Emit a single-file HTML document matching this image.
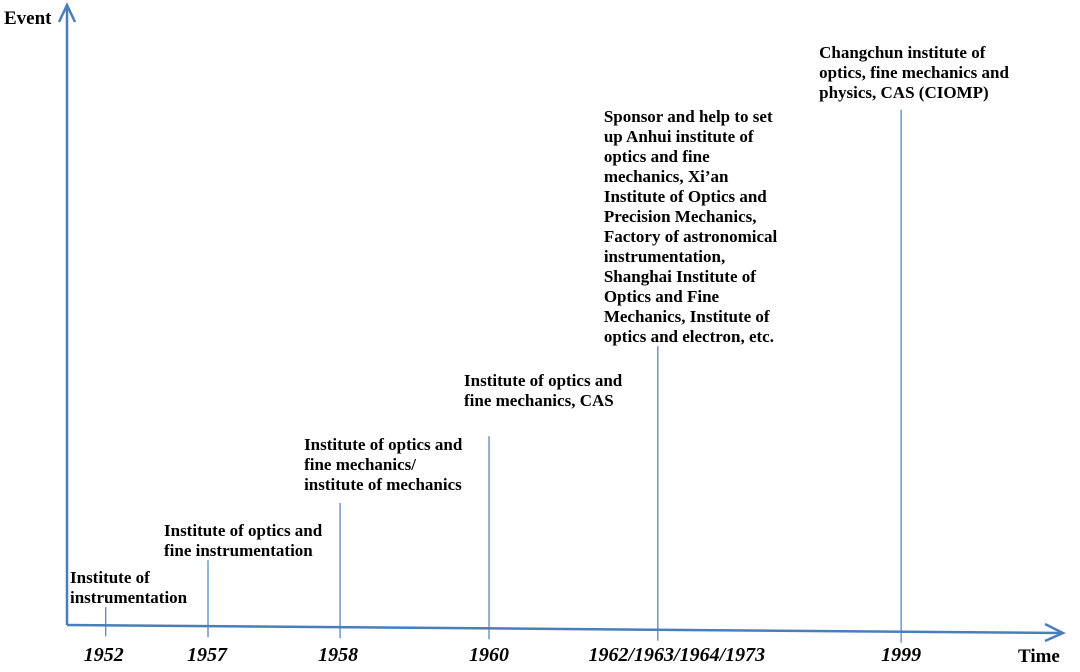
<!DOCTYPE html>
<html><head><meta charset="utf-8"><style>
html,body{margin:0;padding:0;background:#fff;}
svg{display:block;}
.ev{font-family:"Liberation Serif",serif;font-weight:bold;font-size:17px;fill:#000;}
.yr{font-family:"Liberation Serif",serif;font-weight:bold;font-style:italic;font-size:20px;fill:#000;}
.ax{font-family:"Liberation Serif",serif;font-weight:bold;font-size:19px;fill:#000;}
</style></head><body>
<svg id="chart" width="1080" height="672" viewBox="0 0 1080 672">
  <line x1="67" y1="625" x2="1062" y2="633" stroke="#4a7ebb" stroke-width="2.5"/>
  <polyline points="1045,624 1063,633 1045,641" fill="none" stroke="#4a7ebb" stroke-width="2.5"/>
  <line x1="67" y1="625" x2="67" y2="6" stroke="#4a7ebb" stroke-width="2.5"/>
  <polyline points="59,22 67,5 75,22" fill="none" stroke="#4a7ebb" stroke-width="2.5"/>
  <text class="ax" x="4" y="24">Event</text>
  <text class="ax" x="1018" y="662">Time</text>
  <g id="marks"></g>
</svg>
<script>
const categories = ["1952","1957","1958","1960","1962/1963/1964/1973","1999"];
const levels = [0.029, 0.105, 0.198, 0.306, 0.452, 0.835];
const events = [
 ["Institute of","instrumentation"],
 ["Institute of optics and","fine instrumentation"],
 ["Institute of optics and","fine mechanics/","institute of mechanics"],
 ["Institute of optics and","fine mechanics, CAS"],
 ["Sponsor and help to set","up Anhui institute of","optics and fine","mechanics, Xi\u2019an","Institute of Optics and","Precision Mechanics,","Factory of astronomical","instrumentation,","Shanghai Institute of","Optics and Fine","Mechanics, Institute of","optics and electron, etc."],
 ["Changchun institute of","optics, fine mechanics and","physics, CAS (CIOMP)"]
];
const slots = [0.039, 0.142, 0.275, 0.425, 0.595, 0.84];
function xScale(i){ return 67 + slots[i]*993; }
function axisY(x){ return 625 + (x-67)*8/995; }
function yScale(v){ return 625 - v*617; }
const NS="http://www.w3.org/2000/svg";
const g=document.getElementById('marks');
const textLeft=[3,-44,-36,-25,-54,-82];
const labelGap=[10,10,19,36,10,18];
const yearShift=[-2,-1,-2,0,19,0];
categories.forEach((c,i)=>{
  const x=xScale(i);
  const top=yScale(levels[i]);
  const ln=document.createElementNS(NS,'line');
  ln.setAttribute('x1',x);ln.setAttribute('x2',x);
  ln.setAttribute('y1',top);ln.setAttribute('y2',axisY(x)+11);
  ln.setAttribute('stroke','#4a7ebb');ln.setAttribute('stroke-width','1.2');
  
  
  g.appendChild(ln);
  const yt=document.createElementNS(NS,'text');
  yt.setAttribute('class','yr');yt.setAttribute('x',x+yearShift[i]);yt.setAttribute('y',661);
  yt.setAttribute('text-anchor','middle');yt.textContent=c;
  
  
  g.appendChild(yt);
  const lines=events[i];
  const n=lines.length;
  const tx = i===0 ? 70 : x + textLeft[i];
  const lastCenter = top - labelGap[i];
  const firstBase = lastCenter - (n-1)*20 + 6;
  const t=document.createElementNS(NS,'text');
  t.setAttribute('class','ev');
  
  
  lines.forEach((s,k)=>{
    const sp=document.createElementNS(NS,'tspan');
    sp.setAttribute('x',tx);sp.setAttribute('y',firstBase+k*20);
    sp.textContent=s;t.appendChild(sp);
  });
  g.appendChild(t);
});
</script>
</body></html>
